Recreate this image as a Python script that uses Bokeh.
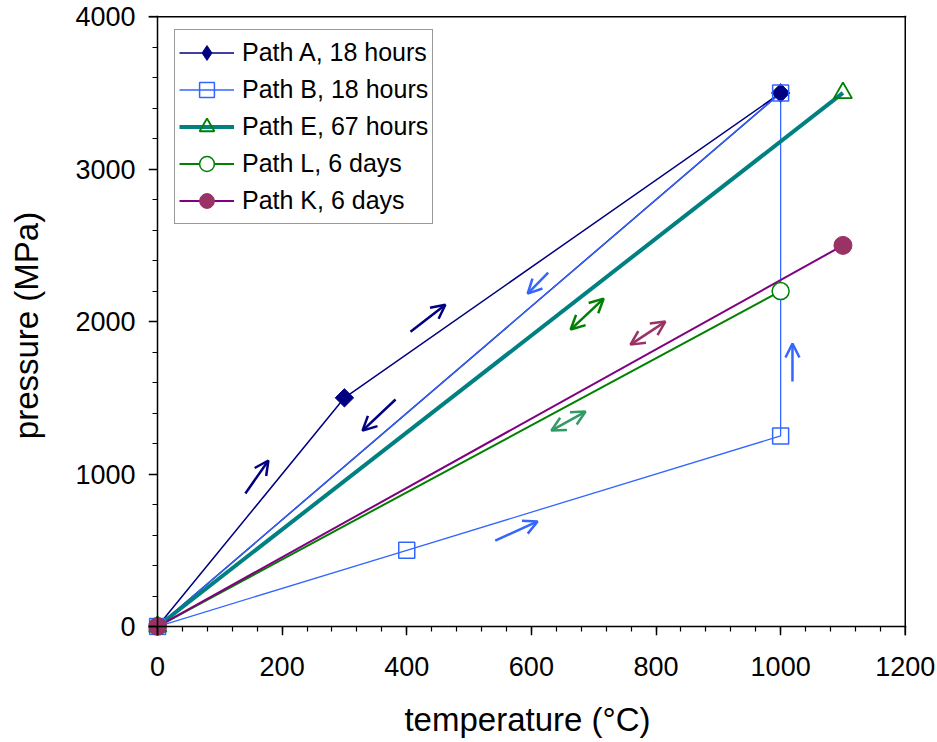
import math
from bokeh.plotting import figure
from bokeh.models import FixedTicker, Legend, LegendItem, Arrow, OpenHead, Span, Range1d, LinearAxis
from bokeh.embed import file_html
from bokeh.resources import INLINE

# ---- data ----
path_a_t = [0, 300, 1000, 0]
path_a_p = [0, 1500, 3500, 0]
path_a_mark_t = [0, 300, 1000]
path_a_mark_p = [0, 1500, 3500]

path_b_t = [0, 400, 1000, 1000, 0]
path_b_p = [0, 500, 1250, 3500, 0]
path_b_mark_t = [0, 400, 1000, 1000]
path_b_mark_p = [0, 500, 1250, 3500]

path_e_t = [0, 1100]
path_e_p = [0, 3500]

path_l_t = [0, 1000]
path_l_p = [0, 2200]

path_k_t = [0, 1100]
path_k_p = [0, 2500]

x_ticks = [0, 200, 400, 600, 800, 1000, 1200]
y_ticks = [0, 1000, 2000, 3000, 4000]
x_minor = list(range(0, 1201, 40))
y_minor = list(range(0, 4001, 200))

# direction arrows (tail -> head), in data units
arrow_t0 = [141, 406, 382, 627, 663, 759, 632, 1019, 542]
arrow_p0 = [872, 1934, 1489, 2321, 1948, 1849, 1285, 1607, 564]
arrow_t1 = [178, 462, 329, 594, 716, 815, 687, 1019, 610]
arrow_p1 = [1089, 2111, 1285, 2184, 2151, 2000, 1410, 1856, 689]
arrow_colors = ["#000080", "#000080", "#000080", "#3366FF", "#008000",
                "#993366", "#339966", "#3366FF", "#3366FF"]
arrow_double = [False, False, False, False, True, True, True, False, False]

FONT = "Liberation Sans"

p = figure(frame_width=758, frame_height=620,
           min_border_left=148, min_border_top=15, min_border_right=30, min_border_bottom=105,
           x_range=Range1d(-14.44, 1202), y_range=Range1d(-59, 4008),
           output_backend="svg", toolbar_location=None)
p.outline_line_color = None
p.grid.visible = False
p.background_fill_color = "white"
p.border_fill_color = "white"

# inner axes: line + ticks drawn at zero
for ax in (p.xaxis[0], p.yaxis[0]):
    ax.fixed_location = 0
    ax.axis_line_width = 1.5
    ax.axis_line_color = "black"
    ax.major_tick_line_width = 1.5
    ax.minor_tick_line_width = 1.2
    ax.major_tick_in = 0
    ax.major_tick_out = 9
    ax.minor_tick_in = 0
    ax.minor_tick_out = 5
    ax.major_label_text_font_size = "1px"
    ax.major_label_text_color = None
    ax.major_label_standoff = 0
p.xaxis[0].ticker = FixedTicker(ticks=x_ticks, minor_ticks=x_minor)
p.yaxis[0].ticker = FixedTicker(ticks=y_ticks, minor_ticks=y_minor)

# outer axes: labels only
xlab = LinearAxis(ticker=FixedTicker(ticks=x_ticks), axis_label="temperature (°C)")
ylab = LinearAxis(ticker=FixedTicker(ticks=y_ticks), axis_label="pressure (MPa)")
for ax in (xlab, ylab):
    ax.axis_line_color = None
    ax.major_tick_line_color = None
    ax.minor_tick_line_color = None
    ax.major_tick_in = 0
    ax.major_tick_out = 0
    ax.minor_tick_in = 0
    ax.minor_tick_out = 0
    ax.major_label_text_font = FONT
    ax.major_label_text_font_size = "27px"
    ax.major_label_text_color = "black"
    ax.axis_label_text_font = FONT
    ax.axis_label_text_font_size = "33px"
    ax.axis_label_text_font_style = "normal"
    ax.axis_label_text_color = "black"
xlab.major_label_standoff = 21
ylab.major_label_standoff = 13
xlab.axis_label_standoff = 22
ylab.axis_label_standoff = 27
p.add_layout(xlab, "below")
p.add_layout(ylab, "left")

# box top and right
p.add_layout(Span(location=1200, dimension="height", line_color="black", line_width=1.5))
p.add_layout(Span(location=4000, dimension="width", line_color="black", line_width=1.5))

# ---- paths ----
ra_l = p.line(path_a_t, path_a_p, line_color="#000080", line_width=1.5)
rb_l = p.line(path_b_t, path_b_p, line_color="#3366FF", line_width=1.3)
re_l = p.line(path_e_t, path_e_p, line_color="#008080", line_width=4)
rl_l = p.line(path_l_t, path_l_p, line_color="#008000", line_width=2)
rk_l = p.line(path_k_t, path_k_p, line_color="#800080", line_width=2)

ra_m = p.scatter(path_a_mark_t, path_a_mark_p, marker="square", angle=math.pi / 4, size=13,
                 fill_color="#000080", line_color="#000080")
rb_m = p.scatter(path_b_mark_t, path_b_mark_p, marker="square", size=16,
                 fill_color=None, line_color="#3366FF", line_width=1.5)
re_m = p.scatter(path_e_t, path_e_p, marker="triangle", size=18,
                 fill_color=None, line_color="#008000", line_width=1.8)
rl_m = p.scatter(path_l_t, path_l_p, marker="circle", size=17,
                 fill_color="white", line_color="#008000", line_width=1.5)
rk_m = p.scatter(path_k_t, path_k_p, marker="circle", size=18,
                 fill_color="#993366", line_color="#993366")
# legend-only glyph for the diamond (no visible data)
ra_leg = p.scatter([float("nan")], [float("nan")], marker="diamond", size=18,
                   fill_color="#000080", line_color="#000080")

# ---- arrows ----
for x0, y0, x1, y1, c, dbl in zip(arrow_t0, arrow_p0, arrow_t1, arrow_p1, arrow_colors, arrow_double):
    end = OpenHead(size=14, line_color=c, line_width=2.5)
    start = OpenHead(size=14, line_color=c, line_width=2.5) if dbl else None
    p.add_layout(Arrow(x_start=x0, y_start=y0, x_end=x1, y_end=y1, line_color=c,
                       line_width=2.5, end=end, start=start))

legend = Legend(items=[
    LegendItem(label="Path A, 18 hours", renderers=[ra_l, ra_leg]),
    LegendItem(label="Path B, 18 hours", renderers=[rb_l, rb_m]),
    LegendItem(label="Path E, 67 hours", renderers=[re_l, re_m]),
    LegendItem(label="Path L, 6 days", renderers=[rl_l, rl_m]),
    LegendItem(label="Path K, 6 days", renderers=[rk_l, rk_m]),
], location=(26, 411))
legend.label_text_font = FONT
legend.label_text_font_size = "25px"
legend.label_text_color = "black"
legend.glyph_width = 55
legend.glyph_height = 37
legend.label_height = 37
legend.label_standoff = 8
legend.spacing = 0
legend.padding = 4
legend.margin = 0
legend.border_line_color = "#333333"
legend.border_line_width = 1
legend.background_fill_alpha = 1
p.add_layout(legend)

open("out.html", "w").write(file_html(p, INLINE))
